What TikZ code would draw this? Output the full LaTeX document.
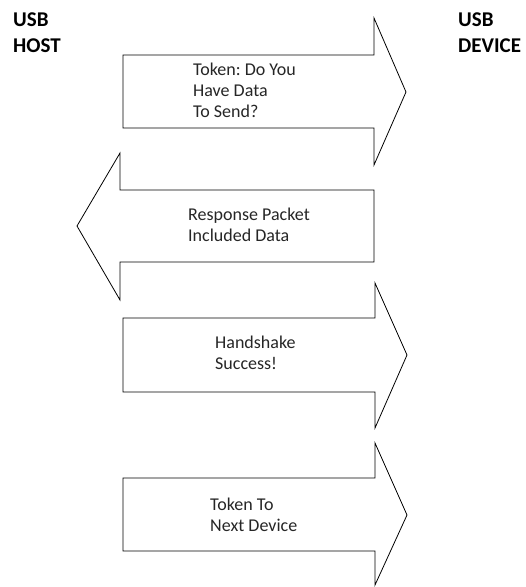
\documentclass[tikz,border=0pt]{standalone}
\usepackage{fontspec}
\setmainfont{Carlito}
\frenchspacing
\begin{document}
\begin{tikzpicture}[x=1pt,y=-1pt,
  blockarrow/.style={draw=black,line width=0.8pt,line join=miter,fill=white},
  title/.style={anchor=base west,inner sep=0pt,align=left,font=\bfseries\fontsize{21}{26.5}\selectfont},
  label/.style={anchor=base west,inner sep=0pt,align=left,text=black!85,font=\frenchspacing\fontsize{18}{21}\selectfont}]
\useasboundingbox (0,0) rectangle (526,587);
% arrow 1 (right)
\draw[blockarrow] (123,55) -- (374,55) -- (374,18) -- (406,92) -- (374,165) -- (374,128) -- (123,128) -- cycle;
% arrow 2 (left)
\draw[blockarrow] (374,190) -- (120,190) -- (120,153) -- (77,226) -- (120,300) -- (120,262) -- (374,262) -- cycle;
% arrow 3 (right)
\draw[blockarrow] (123,318) -- (375,318) -- (375,283) -- (407,355) -- (375,428) -- (375,392) -- (123,392) -- cycle;
% arrow 4 (right)
\draw[blockarrow] (123,478) -- (375,478) -- (375,443) -- (407,515) -- (375,585) -- (375,551) -- (123,551) -- cycle;
% titles (anchor = baseline of last line)
\node[title] (host) at (13,52.5) {USB\\HOST};
\node[title] (device) at (458,52.5) {USB\\DEVICE};
% labels (anchor = baseline of last line)
\node[label] (l1) at (193,117) {Token: Do You\\Have Data\\To Send?};
\node[label] (l2) at (188,241) {Response Packet\\Included Data};
\node[label] (l3) at (215,369.5) {Handshake\\Success!};
\node[label] (l4) at (210,531.5) {Token To\\Next Device};
\end{tikzpicture}
\end{document}
